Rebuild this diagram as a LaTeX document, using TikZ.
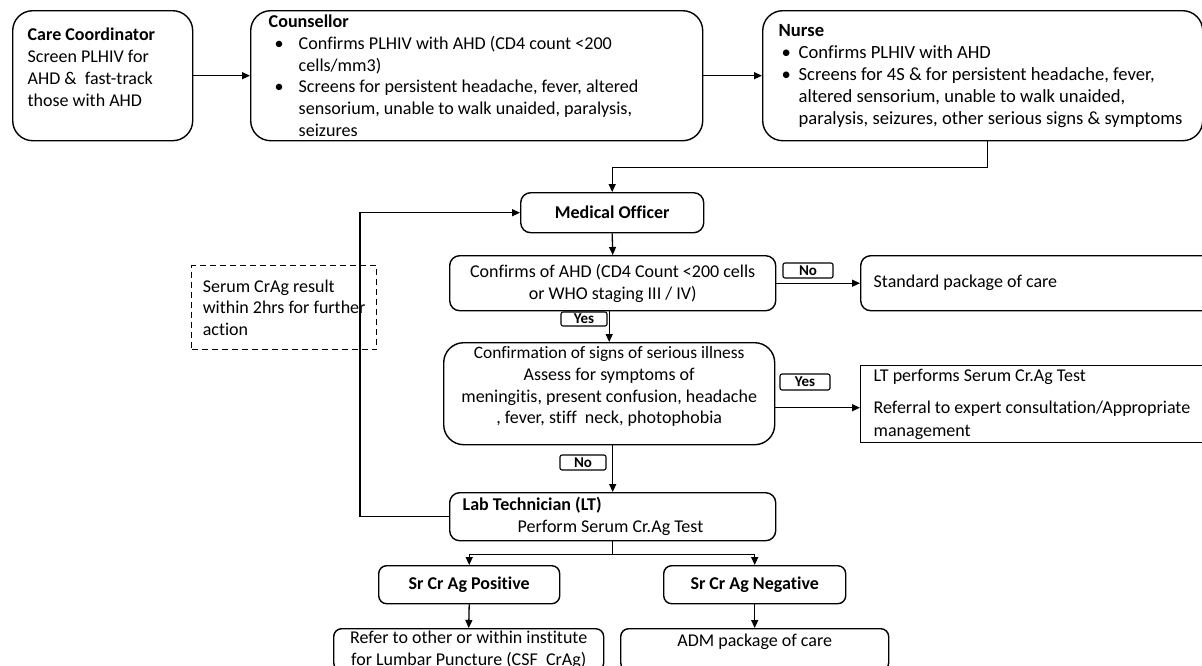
\documentclass[tikz,border=0pt]{standalone}
\usepackage{fontspec}
\setmainfont{Carlito}[Ligatures={NoCommon}]
\usetikzlibrary{arrows.meta}
\hyphenpenalty=10000
\exhyphenpenalty=10000
\newcommand\dn[1]{\rule[-#1]{0pt}{0pt}}
\newcommand\bul[1]{\makebox[#1][l]{\textbullet}}
\begin{document}
\begin{tikzpicture}[x=1pt,y=-1pt,
  font=\fontsize{18pt}{21.8pt}\selectfont,
  box/.style={draw, line width=1.4pt, anchor=north west, inner ysep=0pt, rounded corners=10pt},
  lbl/.style={draw, line width=1.1pt, rounded corners=2pt, inner sep=0pt, font=\fontsize{15pt}{16pt}\selectfont\bfseries},
  arr/.style={line width=1.3pt, -{Triangle[length=8pt,width=7pt]}},
  ln/.style={line width=1.3pt}]
\useasboundingbox (0,0) rectangle (1202,665);
\fill[white] (0,0) rectangle (1202,665);
\clip (0,0) rectangle (1202,665);

\node[box, rounded corners=20pt, minimum width=180, minimum height=130, text width=150, inner xsep=15, align=flush left] (cc) at (12,10)
  {\textbf{Care Coordinator}\\ Screen PLHIV for\\ AHD \&\ \ fast-track\\ those with AHD\dn{17pt}};

\node[box, rounded corners=20pt, minimum width=452, minimum height=130, text width=416, inner xsep=18, align=flush left, font=\fontsize{18.1pt}{21.7pt}\selectfont] (couns) at (250,10)
  {\textbf{Counsellor}\\
   \hspace*{6pt}\bul{24pt}Confirms PLHIV with AHD (CD4 count <200\\
   \hspace*{30pt}cells/mm3)\\
   \hspace*{6pt}\bul{24pt}Screens for persistent headache, fever, altered\\
   \hspace*{30pt}sensorium, unable to walk unaided, paralysis,\\
   \hspace*{30pt}seizures};

\node[box, rounded corners=20pt, minimum width=440, minimum height=130, text width=408, inner xsep=16, align=flush left, font=\fontsize{18.6pt}{22pt}\selectfont] (nurse) at (762,10)
  {\textbf{Nurse}\\
   \hspace*{3pt}\bul{17pt}Confirms PLHIV with AHD\\
   \hspace*{3pt}\bul{17pt}Screens for 4S \& for persistent headache, fever,\\
   \hspace*{20pt}altered sensorium, unable to walk unaided,\\
   \hspace*{20pt}paralysis, seizures, other serious signs \& symptoms};

\node[box, minimum width=183, minimum height=40, font=\fontsize{18pt}{21.8pt}\selectfont\bfseries] (mo) at (520,192) {Medical Officer};

\node[box, minimum width=326, minimum height=55, align=center] (ahd) at (449,255)
  {Confirms of AHD (CD4 Count <200 cells\\ or WHO staging III / IV)};

\node[box, minimum width=360, minimum height=55, text width=334, inner xsep=13, align=flush left] (std) at (860,255)
  {Standard package of care};

\node[box, rounded corners=20pt, minimum width=331, minimum height=102, align=center] (ill) at (443,342)
  {{\fontsize{17.4pt}{21.8pt}\selectfont Confirmation of signs of serious illness}\\ Assess for symptoms of\\ meningitis, present confusion, headache\\ , fever, stiff\ \ neck, photophobia\dn{17pt}};

\node[box, rounded corners=0pt, minimum width=360, minimum height=77, text width=334, inner xsep=13, align=flush left] (lt) at (860,365)
  {LT performs Serum Cr.Ag Test\\[11pt] Referral to expert consultation/Appropriate\\[1pt] management};

\node[box, minimum width=326, minimum height=48, text width=300, inner xsep=13, align=flush left] (lab) at (449,492)
  {\textbf{Lab Technician (LT)}\\ \hspace*{55pt}Perform Serum Cr.Ag Test};

\node[box, rounded corners=8pt, minimum width=181, minimum height=38, font=\fontsize{18pt}{21.8pt}\selectfont\bfseries] (pos) at (378,565) {Sr Cr Ag Positive};
\node[box, rounded corners=8pt, minimum width=182, minimum height=38, font=\fontsize{18pt}{21.8pt}\selectfont\bfseries] (neg) at (663,565) {Sr Cr Ag Negative};

\node[box, rounded corners=8pt, minimum width=270, minimum height=42, align=center] (refer) at (333,628)
  {Refer to other or within institute\\ for Lumbar Puncture (CSF\ \ CrAg)};
\node[box, rounded corners=8pt, minimum width=268, minimum height=42, align=center] (adm) at (620,628)
  {ADM package of care\dn{18pt}};

\node[draw, line width=1.3pt, dash pattern=on 6pt off 4pt, anchor=north west, minimum width=185, minimum height=84, inner xsep=0pt, inner ysep=0pt, align=flush left] (note) at (191,265)
  {Serum CrAg result\\ within 2hrs for further\\ action};

\node[lbl, minimum width=50, minimum height=15] (no1) at (808,270.5) {No};
\node[lbl, minimum width=46, minimum height=14] (yes1) at (584,319) {Yes};
\node[lbl, minimum width=50, minimum height=16] (yes2) at (805,382) {Yes};
\node[lbl, minimum width=46, minimum height=15] (no2) at (583,462.5) {No};

% connectors
\draw[arr] (cc.east) -- (couns.west);
\draw[arr] (couns.east) -- (nurse.west);
\draw[arr] ([xshift=5pt]nurse.south) -- ++(0,26) -| (mo.north);
\draw[arr] (mo.south) -- (ahd.north);
\draw[arr] (ahd.east) -- (std.west);
\draw[arr] (ill.north |- ahd.south) -- (ill.north);
\draw[arr] ([yshift=-14pt]ill.east) -- ([yshift=-14pt]ill.east -| lt.west);
\draw[arr] (lab.north |- ill.south) -- (lab.north);
\draw[arr] (lab.west) -- ++(-89,0) |- (mo.west);
\draw[arr] (lab.south) -- ++(0,13) -| (pos.north);
\draw[arr] (lab.south) -- ++(0,13) -| (neg.north);
\draw[arr] (pos.south) -- (refer.north);
\draw[arr] (neg.south) -- (adm.north);
\end{tikzpicture}
\end{document}
